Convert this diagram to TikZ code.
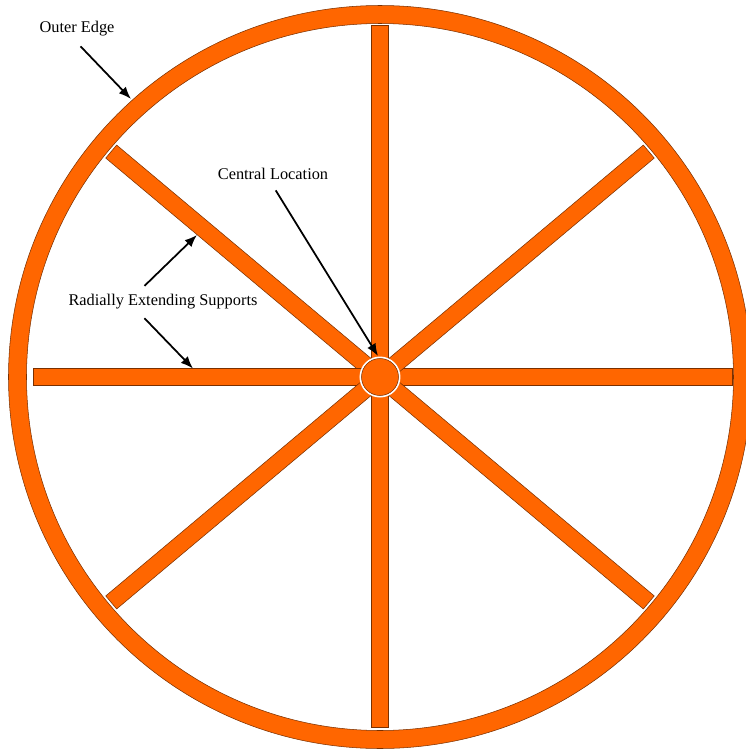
\documentclass[tikz,border=0pt]{standalone}
\usepackage{fontspec}
\setmainfont{Liberation Serif}
\usepackage{tikz}
\usetikzlibrary{arrows.meta,calc}

\definecolor{woodorange}{HTML}{FF6600}
\definecolor{woodedge}{HTML}{7A3000}

\tikzset{
  wood/.style={fill=woodorange, draw=woodedge, line width=0.3pt},
  pointer/.style={-{Latex[length=7pt,width=5.5pt]}, line width=1pt, shorten <=2pt},
  tag/.style={font=\fontsize{9.3}{11}\selectfont}
}

\begin{document}
\begin{tikzpicture}[scale=0.02]

\useasboundingbox (-380,-373) rectangle (366,377);

\coordinate (O) at (0,0);
\coordinate (rim) at (-249,278);
\coordinate (hub) at (-2,21);
\coordinate (sup1) at (-183,142);
\coordinate (sup2) at (-187,8.5);

\filldraw[wood, even odd rule] (O) circle (371.5) (O) circle (353.5);

\filldraw[wood, rotate=0] (0,-8.5) rectangle (352,8.5);
\filldraw[wood, rotate=40] (0,-8.5) rectangle (351,8.5);
\filldraw[wood, rotate=90] (0,-8.5) rectangle (352,8.5);
\filldraw[wood, rotate=140] (0,-8.5) rectangle (351,8.5);
\filldraw[wood, rotate=180] (0,-8.5) rectangle (347,8.5);
\filldraw[wood, rotate=220] (0,-8.5) rectangle (351,8.5);
\filldraw[wood, rotate=270] (0,-8.5) rectangle (350,8.5);
\filldraw[wood, rotate=320] (0,-8.5) rectangle (351,8.5);

\fill[white] (O) circle (20.5);
\filldraw[wood] (O) circle (18.5);

\node[tag] (outer) at (-303,348) {Outer Edge};
\node[tag] (central) at (-107,203) {Central Location};
\node[tag] (radial) at (-217,75) {Radially Extending Supports};

\draw[pointer, shorten <=3pt] (outer.south) -- (rim);
\draw[pointer, shorten <=3pt] (central.south) -- (hub);
\draw[pointer] ($(radial.north)+(-21,0)$) -- (sup1);
\draw[pointer] ($(radial.south)+(-21,0)$) -- (sup2);

\end{tikzpicture}
\end{document}
